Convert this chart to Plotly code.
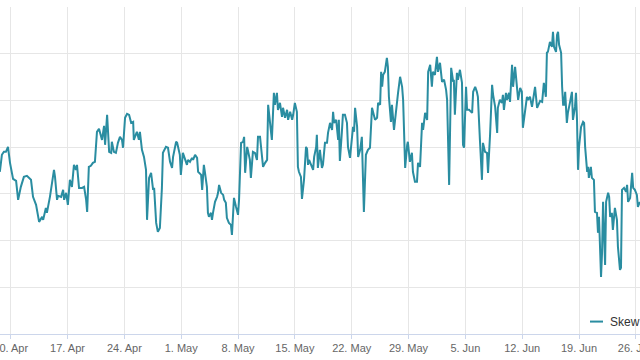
import pandas as pd
import plotly.graph_objects as go

# time offsets in hours from 10 Apr 2023 00:00, and skew readings
hours_a = [-32, -26, -20, -14, -8, -2, 7, 16, 22, 30,
           39, 48, 60, 66, 75, 84, 93, 96, 104, 107,
           116, 125, 128, 131, 137, 140, 149, 155, 158, 164,
           169, 175, 181, 187, 193, 196, 202, 211, 217, 223,
           226, 231, 237]
skew_a = [-2.64, -0.82, -0.50, -0.50, 0.03, -1.68, -3.39, -3.61, -5.64, -4.25,
          -3.18, -3.07, -3.50, -5.32, -6.18, -8.00, -7.46, -7.78, -6.50, -7.03,
          -5.32, -2.97, -2.43, -3.18, -5.64, -5.21, -5.32, -4.57, -5.64, -4.89,
          -6.18, -3.50, -4.25, -1.90, -2.43, -1.90, -4.36, -4.36, -4.25, -5.64,
          -6.93, -2.11, -2.00]

hours_b = [243, 249, 255, 261, 270, 276, 279, 285, 291, 297,
           299, 305, 311, 317, 323, 329, 332, 338, 344, 350,
           356, 362, 364, 373, 379, 382, 388, 394, 400, 403,
           409, 415, 421, 424, 430, 435, 441, 447, 450, 459,
           465, 471, 477, 480, 489, 492, 500]
skew_b = [-1.68, -1.57, 1.64, 1.96, 0.78, 2.28, 0.25, 3.46, -0.50, -0.61,
          0.57, -0.50, -0.61, 0.46, 1.10, 0.78, -0.07, 3.14, 3.57, 3.46,
          2.60, 2.71, 0.78, 1.64, 0.78, 1.64, -0.29, -1.04, -2.43, -7.78,
          -3.29, -2.75, -4.57, -4.36, -8.11, -9.07, -8.64, -4.36, -0.61, 0.03,
          -0.07, -1.57, -2.22, -1.04, 0.57, 0.46, -0.82]

hours_c = [503, 509, 515, 521, 524, 530, 536, 539, 545, 551,
           554, 563, 566, 571, 574, 580, 583, 586, 592, 595,
           598, 604, 610, 613, 616, 622, 628, 631, 636, 639,
           645, 651, 654, 657, 660, 666, 672, 675, 681, 687,
           690, 693, 699, 701, 707, 710, 716, 722, 728, 731,
           737, 743, 746, 752, 758, 761, 767, 772]
skew_c = [-2.97, -0.61, -1.36, -1.90, -1.36, -1.57, -1.15, -1.36, -0.82, -1.15,
          -2.64, -2.97, -4.57, -1.90, -2.64, -4.25, -7.03, -7.46, -7.03, -7.78,
          -7.03, -5.86, -5.32, -4.89, -4.04, -4.89, -5.11, -5.64, -5.96, -7.57,
          -8.11, -8.32, -9.39, -7.46, -5.43, -6.39, -7.25, -5.64, 0.46, 0.57,
          1.10, -2.75, 0.03, -0.29, -1.36, -3.29, -0.50, -0.61, -1.36, 1.10,
          1.10, -1.04, -2.11, -1.68, -1.36, 4.53, 2.28, 0.78]

hours_d = [778, 781, 787, 790, 796, 802, 805, 811, 817, 820,
           826, 832, 835, 840, 846, 849, 852, 858, 861, 867,
           873, 876, 879, 882, 888, 894, 897, 903, 905, 908,
           914, 920, 923, 929, 935, 938, 944, 950, 953, 956,
           962, 968, 970, 973, 979, 982, 988, 994, 997, 1003,
           1009, 1012, 1015, 1018, 1024, 1027, 1033, 1038, 1044, 1050,
           1056, 1062, 1068, 1071, 1077, 1083, 1086, 1092, 1095, 1098,
           1101, 1106, 1112, 1115, 1118, 1124, 1127, 1133, 1136, 1142,
           1145, 1151, 1157, 1160, 1166, 1172, 1174, 1180, 1186, 1189,
           1195, 1201, 1204, 1210, 1216, 1219, 1225, 1231, 1234, 1240,
           1245, 1248, 1254, 1260, 1263, 1269, 1275, 1281, 1287, 1290,
           1296, 1302]
skew_d = [5.81, 4.53, 5.81, 3.99, 4.74, 3.24, 4.21, 3.14, 3.99, 2.92,
          3.78, 2.92, 3.46, 4.74, 3.78, -2.11, -2.64, -3.18, -5.54, -3.50,
          0.03, -0.18, -1.90, -1.36, -1.90, -2.43, -1.04, 0.03, 1.32, -2.22,
          -0.29, -2.22, -1.90, 0.46, 0.46, 1.53, 2.60, 1.85, 3.78, 2.60,
          2.92, 0.78, 2.92, -1.47, 1.64, 3.46, 3.46, 2.60, 0.03, -1.15,
          1.10, 2.17, 1.64, 4.21, 2.17, -1.04, -0.29, 1.10, -6.93, -0.82,
          -0.29, -0.07, 4.21, 3.67, 2.92, 3.14, 4.74, 4.53, 8.06, 6.46,
          7.74, 8.06, 9.56, 8.60, 5.39, 2.71, 4.53, 1.85, 2.92, 5.39,
          5.81, 7.53, 6.46, 5.06, -2.22, 0.25, 0.57, -1.57, -0.61, -2.64,
          -3.71, -3.71, -1.68, -2.11, 2.60, 1.85, 3.67, 2.92, 8.06, 8.81,
          6.46, 8.06, 7.74, 9.67, 8.06, 9.03, 6.99, 7.21, 6.13, 5.06,
          -4.04, 8.49]

hours_e = [1308, 1310, 1313, 1319, 1322, 1328, 1334, 1337, 1340, 1346,
           1349, 1355, 1364, 1367, 1373, 1378, 1381, 1387, 1393, 1396,
           1402, 1408, 1411, 1417, 1423, 1426, 1432, 1438, 1440, 1446,
           1452, 1455, 1458, 1464, 1467, 1473, 1476, 1482, 1485, 1491,
           1497, 1500, 1506, 1511, 1514, 1520, 1526, 1529, 1535, 1541,
           1544, 1550, 1556, 1559, 1565, 1571, 1576, 1582, 1585, 1588,
           1594, 1600, 1603, 1606, 1612, 1615, 1618, 1621, 1627, 1630,
           1633, 1636, 1639, 1644, 1647, 1653, 1659, 1662, 1668, 1671,
           1674, 1677, 1680, 1686, 1692, 1695, 1698, 1704, 1707, 1709,
           1715, 1718, 1724, 1727, 1733, 1736, 1739, 1745, 1748, 1751,
           1757, 1760, 1766, 1769, 1772, 1777, 1780, 1786, 1792, 1795,
           1801, 1804, 1807, 1813, 1819, 1822, 1825, 1831, 1837, 1840,
           1845, 1851, 1854, 1860]
skew_e = [6.99, 7.21, 3.46, 7.96, 7.21, 8.28, 6.88, 0.25, -0.07, 6.46,
          3.99, 3.99, 3.67, 5.92, 6.46, 5.92, 5.39, 0.78, -3.50, 0.46,
          -0.50, -0.61, -2.75, 1.32, 6.67, 5.60, 4.31, 1.53, 4.21, 5.06,
          4.74, 5.60, 3.99, 5.81, 5.06, 5.81, 4.85, 8.81, 6.46, 8.60,
          5.60, 5.06, 6.35, 5.92, 2.07, 3.99, 5.39, 5.06, 5.39, 4.31,
          5.06, 6.46, 4.21, 4.53, 4.96, 4.85, 6.88, 5.39, 10.10, 10.20,
          11.27, 10.74, 12.34, 10.74, 10.20, 12.02, 12.34, 10.95, 10.10, 6.46,
          4.53, 4.53, 5.92, 2.60, 3.67, 4.74, 5.92, 2.92, 4.31, 5.81,
          2.92, -2.43, 0.03, 2.17, 2.71, 2.60, 0.03, -2.64, -2.11, -3.29,
          -2.11, -3.29, -3.50, -6.93, -7.03, -9.17, -7.46, -13.89, -11.32, -5.86,
          -12.60, -5.86, -4.89, -5.32, -7.46, -7.03, -8.85, -6.50, -7.78, -10.67,
          -13.14, -12.92, -4.57, -4.36, -4.79, -4.04, -5.86, -5.43, -2.75, -4.36,
          -4.57, -5.11, -6.39, -5.86]

series_name = "Skew 25Δ 30d"
start = pd.Timestamp("2023-04-10")
x_range = ["2023-04-08 16:24", "2023-06-26 12:12"]

hours = hours_a + hours_b + hours_c + hours_d + hours_e
skew = skew_a + skew_b + skew_c + skew_d + skew_e
dates = start + pd.to_timedelta(hours, unit="h")

line_color = "#2a8da1"

fig = go.Figure()
fig.add_trace(go.Scatter(x=dates, y=skew, mode="lines", name=series_name,
                         line=dict(color=line_color, width=2), showlegend=False))

fig.update_layout(
    width=640, height=360,
    margin=dict(l=0, r=0, t=7, b=26),
    paper_bgcolor="white", plot_bgcolor="white",
    font=dict(family="Liberation Sans, Arial, sans-serif"),
    xaxis=dict(
        type="date", range=x_range,
        tick0="2023-04-10", dtick=7 * 86400000,
        tickformat="%-d. %b",
        showgrid=True, gridcolor="#e6e6e6", gridwidth=1,
        showline=True, linecolor="#ccd6eb", linewidth=1,
        ticks="outside", ticklen=4, tickcolor="#ccd6eb",
        tickfont=dict(size=11, color="#666666"),
        ticklabeloverflow="allow", automargin=False,
        zeroline=False,
    ),
    yaxis=dict(
        range=[-20, 15], dtick=5, tick0=0,
        showgrid=True, gridcolor="#e6e6e6", gridwidth=1,
        showticklabels=False, zeroline=False, showline=False,
        automargin=False,
    ),
    shapes=[dict(type="line", xref="paper", yref="paper",
                 x0=590 / 640, x1=603 / 640, y0=0.038, y1=0.038,
                 line=dict(color=line_color, width=2))],
    annotations=[dict(text=series_name, xref="paper", yref="paper",
                      x=608 / 640, y=0.038, xanchor="left", yanchor="middle",
                      showarrow=False, font=dict(size=12, color="#333333"))],
)

fig.write_html("out.html")
